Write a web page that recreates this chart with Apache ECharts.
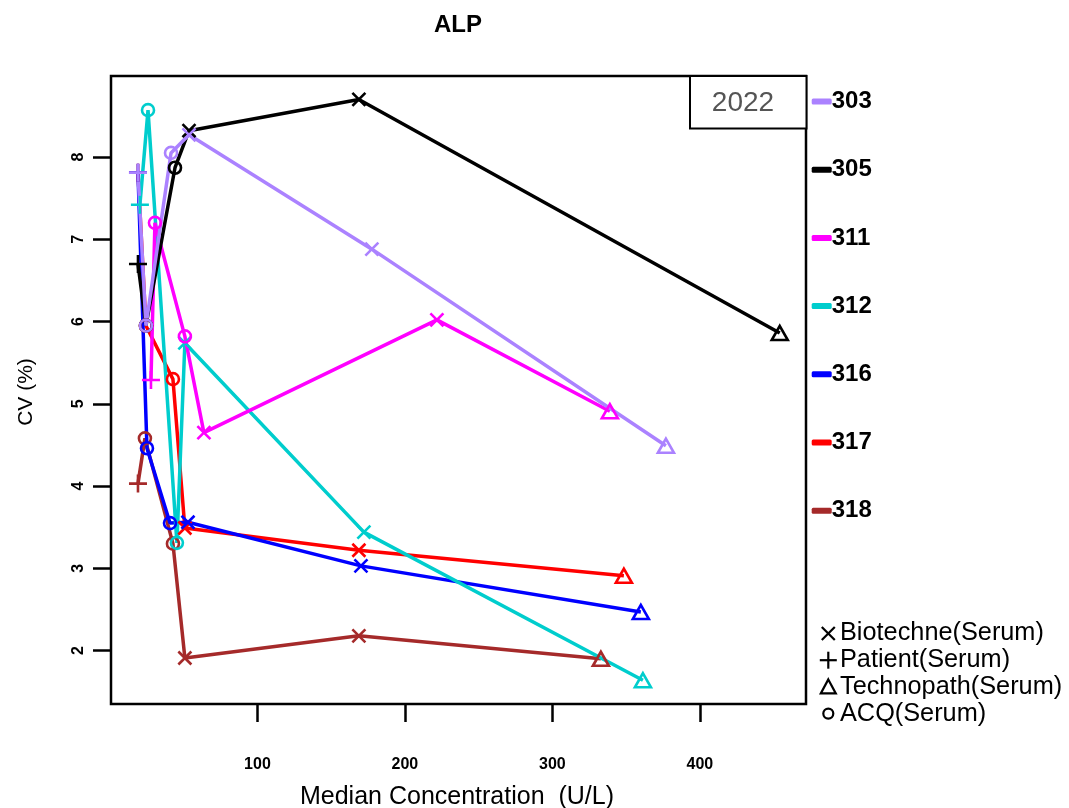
<!DOCTYPE html>
<html><head><meta charset="utf-8">
<script src="https://cdn.jsdelivr.net/npm/echarts@6/dist/echarts.min.js"></script>
<style>html,body{margin:0;padding:0;background:#fff}#c{width:1069px;height:808px}</style>
</head><body><div id="c"></div>
<script>
// ---- data ----
const labs = ['303','305','311','312','316','317','318'];
const patientX  = [19.0, 19.0, 27.8, 20.3, 19.0, 19.0, 19.0];
const patientY  = [7.81, 6.70, 5.29, 7.42, 7.81, 7.81, 4.03];
const acqLowX   = [24.4, 24.4, 30.5, 25.8, 25.1, 24.4, 23.7];
const acqLowY   = [5.95, 5.95, 7.20, 8.57, 4.46, 5.95, 4.58];
const acqHighX  = [41.4, 44.1, 50.8, 45.4, 40.7, 42.7, 42.7];
const acqHighY  = [8.05, 7.87, 5.82, 3.31, 3.55, 5.30, 3.30];
const bioLowX   = [53.6, 53.6, 63.7, 50.8, 52.9, 50.8, 50.8];
const bioLowY   = [8.27, 8.32, 4.65, 5.74, 3.56, 3.49, 1.91];
const bioHighX  = [177.6, 168.8, 221.7, 172.2, 170.2, 168.8, 168.8];
const bioHighY  = [6.88, 8.70, 6.02, 3.44, 3.03, 3.22, 2.18];
const technoX   = [377.0, 454.2, 339.0, 361.4, 360.0, 348.5, 332.9];
const technoY   = [4.49, 5.86, 4.91, 1.64, 2.47, 2.91, 1.90];
const xTicks = [100, 200, 300, 400];
const yTicks = [2, 3, 4, 5, 6, 7, 8];
const materialNames = ['Biotechne(Serum)', 'Patient(Serum)', 'Technopath(Serum)', 'ACQ(Serum)'];

// ---- styles ----
const labColors = ['#AB82FF', '#000000', '#FF00FF', '#00CDCD', '#0000FF', '#FF0000', '#A52A2A'];
const FONT = '"Liberation Sans", Arial, Helvetica, sans-serif';
const mats = [
  {xs: patientX, ys: patientY, kind: 'plus'},
  {xs: acqLowX, ys: acqLowY, kind: 'circle'},
  {xs: acqHighX, ys: acqHighY, kind: 'circle'},
  {xs: bioLowX, ys: bioLowY, kind: 'cross'},
  {xs: bioHighX, ys: bioHighY, kind: 'cross'},
  {xs: technoX, ys: technoY, kind: 'triangle'}
];
const symCross = 'path://M0,0L10,10M10,0L0,10';
const symPlus = 'path://M5,0L5,10M0,5L10,5';
const MW = 2.6;
function markerStyle(kind, col) {
  if (kind === 'cross') return {symbol: symCross, symbolSize: 13, itemStyle: {color: col, borderColor: col, borderWidth: MW}};
  if (kind === 'plus') return {symbol: symPlus, symbolSize: 18, itemStyle: {color: col, borderColor: col, borderWidth: MW}};
  if (kind === 'circle') return {symbol: 'circle', symbolSize: 12, itemStyle: {color: 'rgba(0,0,0,0)', borderColor: col, borderWidth: MW}};
  return {symbol: 'triangle', symbolSize: [16, 14], itemStyle: {color: 'rgba(0,0,0,0)', borderColor: col, borderWidth: MW}};
}

const drawOrder = [6, 5, 4, 3, 2, 1, 0];
const series = drawOrder.map(i => {
  const pts = mats.map(m => ({x: m.xs[i], y: m.ys[i], kind: m.kind}));
  pts.sort((a, b) => a.x - b.x);
  return {
    type: 'line', name: labs[i],
    data: pts.map(p => Object.assign({value: [p.x, p.y]}, markerStyle(p.kind, labColors[i]))),
    lineStyle: {color: labColors[i], width: 3.5},
    itemStyle: {color: labColors[i]},
    showSymbol: true, animation: false, silent: true, clip: false,
    emphasis: {disabled: true}
  };
});

// material key (graphic)
const keyX = 828.3, keyY0 = 633.5, keyStep = 26.7;
const matKinds = ['cross', 'plus', 'triangle', 'circle'];
const keyGraphics = [];
matKinds.forEach((k, j) => {
  const cy = keyY0 + j * keyStep;
  const st = {stroke: '#000', lineWidth: 2.2, fill: null};
  if (k === 'cross') {
    keyGraphics.push({type: 'line', shape: {x1: keyX - 6.5, y1: cy - 6.5, x2: keyX + 6.5, y2: cy + 6.5}, style: st});
    keyGraphics.push({type: 'line', shape: {x1: keyX + 6.5, y1: cy - 6.5, x2: keyX - 6.5, y2: cy + 6.5}, style: st});
  } else if (k === 'plus') {
    keyGraphics.push({type: 'line', shape: {x1: keyX - 8.5, y1: cy, x2: keyX + 8.5, y2: cy}, style: st});
    keyGraphics.push({type: 'line', shape: {x1: keyX, y1: cy - 8.5, x2: keyX, y2: cy + 8.5}, style: st});
  } else if (k === 'triangle') {
    keyGraphics.push({type: 'polygon', shape: {points: [[keyX, cy - 7.5], [keyX + 7.5, cy + 6.5], [keyX - 7.5, cy + 6.5]]}, style: st});
  } else {
    keyGraphics.push({type: 'circle', shape: {cx: keyX, cy: cy, r: 5}, style: st});
  }
  keyGraphics.push({type: 'text', x: 840, y: cy, style: {text: materialNames[j], font: '25.3px ' + FONT, fill: '#000', textVerticalAlign: 'middle', textAlign: 'left'}});
});

const chart = echarts.init(document.getElementById('c'), null, {renderer: 'canvas'});
chart.setOption({
  backgroundColor: '#fff',
  animation: false,
  grid: {left: 111, right: 263, top: 76, bottom: 104, show: true, borderColor: '#000', borderWidth: 2.5, backgroundColor: 'rgba(0,0,0,0)'},
  xAxis: {
    type: 'value', min: 0.7, max: 472,
    axisLine: {show: false},
    splitLine: {show: false},
    axisTick: {show: true, customValues: xTicks, length: 18, lineStyle: {color: '#000', width: 2.5}},
    axisLabel: {customValues: xTicks, margin: 53, fontSize: 16, fontWeight: 'bold', color: '#000', fontFamily: FONT}
  },
  yAxis: {
    type: 'value', min: 1.351, max: 8.985,
    axisLine: {show: false},
    splitLine: {show: false},
    axisTick: {show: true, customValues: yTicks, length: 18, lineStyle: {color: '#000', width: 2.5}},
    axisLabel: {customValues: yTicks, rotate: 90, margin: 24, fontSize: 16, fontWeight: 'bold', color: '#000', fontFamily: FONT}
  },
  legend: {
    orient: 'vertical', left: 811.7, top: 89.5, padding: 0, itemGap: 44.2,
    itemWidth: 20, itemHeight: 6, icon: 'roundRect', selectedMode: false,
    textStyle: {fontSize: 24, fontWeight: 'bold', lineHeight: 24, color: '#000', fontFamily: FONT, padding: [0, 0, 0, -5]},
    data: labs.map((n, i) => ({name: n, itemStyle: {color: labColors[i], borderWidth: 0}}))
  },
  graphic: [
    {type: 'text', x: 458, y: 25, style: {text: 'ALP', font: 'bold 24px ' + FONT, fill: '#000', textAlign: 'center', textVerticalAlign: 'middle'}},
    {type: 'text', x: 457, y: 797, style: {text: 'Median Concentration  (U/L)', font: '25px ' + FONT, fill: '#000', textAlign: 'center', textVerticalAlign: 'middle'}},
    {type: 'text', x: 26, y: 392, rotation: Math.PI / 2, style: {text: 'CV (%)', font: '21px ' + FONT, fill: '#000', textAlign: 'center', textVerticalAlign: 'middle'}},
    {type: 'rect', shape: {x: 690, y: 76, width: 116.5, height: 52.5}, style: {fill: '#fff', stroke: '#000', lineWidth: 2}, z: 10},
    {type: 'text', x: 743, y: 103, style: {text: '2022', font: '28px ' + FONT, fill: '#555', textAlign: 'center', textVerticalAlign: 'middle'}, z: 11}
  ].concat(keyGraphics),
  series: series
});
</script></body></html>
